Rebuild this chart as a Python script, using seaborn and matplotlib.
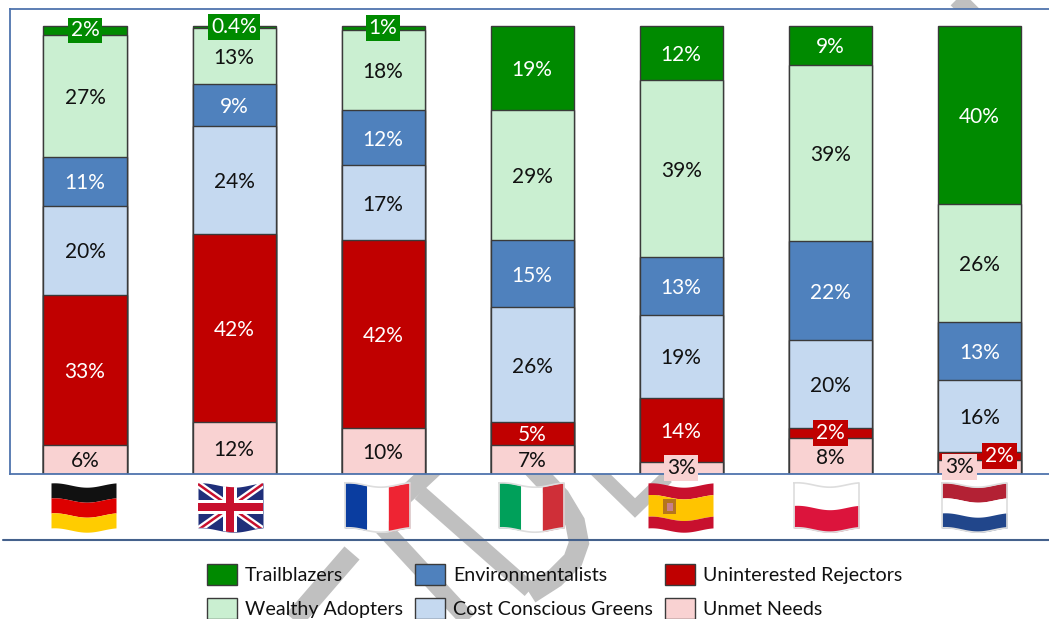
import numpy as np
import seaborn as sns
import matplotlib.pyplot as plt
from matplotlib.patches import Patch, Rectangle

# Chart data, top segment first
countries = ["Germany", "UK", "France", "Italy", "Spain", "Poland", "Netherlands"]
segments = ["Trailblazers", "Wealthy Adopters", "Environmentalists",
            "Cost Conscious Greens", "Uninterested Rejectors", "Unmet Needs"]

trailblazers = [2.0, 0.4, 0.9, 18.8, 12.1, 8.7, 39.8]
wealthy = [27.2, 12.6, 17.9, 29.0, 39.5, 39.2, 26.3]
environmentalists = [10.9, 9.4, 12.3, 15.0, 12.9, 22.3, 12.9]
cost_conscious = [19.9, 24.0, 16.7, 25.6, 18.5, 19.6, 16.1]
rejectors = [33.5, 42.0, 41.9, 5.1, 14.3, 2.2, 1.8]
unmet = [6.5, 11.6, 10.3, 6.5, 2.7, 8.0, 3.1]

trailblazers_txt = ["2%", "0.4%", "1%", "19%", "12%", "9%", "40%"]
wealthy_txt = ["27%", "13%", "18%", "29%", "39%", "39%", "26%"]
environmentalists_txt = ["11%", "9%", "12%", "15%", "13%", "22%", "13%"]
cost_conscious_txt = ["20%", "24%", "17%", "26%", "19%", "20%", "16%"]
rejectors_txt = ["33%", "42%", "42%", "5%", "14%", "2%", "2%"]
unmet_txt = ["6%", "12%", "10%", "7%", "3%", "8%", "3%"]

values = [trailblazers, wealthy, environmentalists, cost_conscious, rejectors, unmet]
value_text = [trailblazers_txt, wealthy_txt, environmentalists_txt,
              cost_conscious_txt, rejectors_txt, unmet_txt]

colors = ["#008A00", "#CAEFD1", "#4F81BD", "#C5D9F0", "#C00000", "#F9D2D2"]
text_colors = ["white", "#111111", "white", "#111111", "white", "#111111"]

W, H = 1049, 619
FONT = 15
LEGEND_FONT = 14.1
STEP = 149.05
EDGE = "#3a3a3a"
FRAME = "#4f74ae"
GRAY = "#c0c0c0"

sns.set_theme(style="white")
plt.rcParams["font.family"] = ["Lato", "DejaVu Sans"]

fig = plt.figure(figsize=(W / 100, H / 100), dpi=100)

# background layer in pixel coordinates, for watermark, flags and rule
bg = fig.add_axes([0, 0, 1, 1], zorder=0)
bg.set_xlim(0, W)
bg.set_ylim(H, 0)
bg.axis("off")

strokes = [
    ([(352, 553), (280, 636)], 20),
    ([(372, 516), (483, 636)], 17),
    ([(445, 458), (400, 500)], 18),
    ([(420, 493), (530, 590)], 16),
    ([(590, 464), (635, 508), (667, 477)], 14),
    ([(950, -8), (975, 17)], 18),
    ([(530, 465), (560, 497), (575, 522), (579, 543), (573, 560), (555, 578), (530, 594)], 20),
]
for pts, w in strokes:
    xs, ys = zip(*pts)
    bg.plot(xs, ys, color=GRAY, lw=w * 0.72, solid_capstyle="butt",
            solid_joinstyle="miter", zorder=1)

bg.plot([3, W], [539.5, 539.5], color="#44618c", lw=1.5, zorder=2)


# waving emoji style flags
def wave(t):
    return -2.2 * np.cos(2 * np.pi * (t - 0.05))


def flag_shape(x0, color, t0=0.0, t1=1.0, f0=0.0, f1=1.0):
    t = np.linspace(t0, t1, 40)
    top = 485 + 45 * f0 + wave(t)
    bottom = 485 + 45 * f1 + wave(t)
    return bg.fill_between(x0 + 65 * t, top, bottom, color=color, lw=0, zorder=3)


def h_flag(x0, stripes):
    for color, f0, f1 in stripes:
        flag_shape(x0, color, f0=f0, f1=f1)


def v_flag(x0, stripes):
    for color, t0, t1 in stripes:
        flag_shape(x0, color, t0=t0, t1=t1)


def outline(x0):
    t = np.linspace(0, 1, 40)
    xs = np.r_[x0 + 65 * t, x0 + 65 * t[::-1], x0]
    ys = np.r_[485 + wave(t), 530 + wave(t[::-1]), 485 + wave(0)]
    bg.plot(xs, ys, color="#dddddd", lw=1.2, zorder=3.5)


h_flag(51, [("#111111", 0, 1 / 3), ("#DD0000", 1 / 3, 2 / 3), ("#FFCC00", 2 / 3, 1)])

base = flag_shape(198, "#1F2F7A")
uk_clip = base.get_paths()[0]
for pts, w, c in [
    ([(198, 484), (263, 530)], 7, "white"), ([(198, 530), (263, 484)], 7, "white"),
    ([(198, 484), (263, 530)], 2.5, "#C8102E"), ([(198, 530), (263, 484)], 2.5, "#C8102E"),
    ([(230, 480), (230, 534)], 14, "white"), ([(196, 507), (265, 507)], 14, "white"),
    ([(230, 480), (230, 534)], 8, "#C8102E"), ([(196, 507), (265, 507)], 8, "#C8102E"),
]:
    xs, ys = zip(*pts)
    ln = bg.plot(xs, ys, color=c, lw=w * 0.72, solid_capstyle="butt", zorder=3.2)[0]
    ln.set_clip_path(uk_clip, bg.transData)

outline(345)
v_flag(345, [("#0A3DA0", 0, 1 / 3), ("white", 1 / 3, 2 / 3), ("#EE2433", 2 / 3, 1)])
outline(499)
v_flag(499, [("#00A05A", 0, 1 / 3), ("white", 1 / 3, 2 / 3), ("#CF2F38", 2 / 3, 1)])
h_flag(648, [("#C8102E", 0, 0.26), ("#FFC400", 0.26, 0.74), ("#C8102E", 0.74, 1)])
bg.add_patch(Rectangle((663, 499), 13, 15, color="#B5751D", lw=0, zorder=3.5))
bg.add_patch(Rectangle((667, 503), 6, 8, color="#C8808A", lw=0, zorder=3.6))
outline(794)
h_flag(794, [("white", 0, 0.5), ("#DC143C", 0.5, 1)])
outline(942)
h_flag(942, [("#B32134", 0, 1 / 3), ("white", 1 / 3, 2 / 3), ("#21468B", 2 / 3, 1)])

# main plot, frame runs off the right edge
ax = fig.add_axes([10 / W, (H - 474) / H, (1052 - 10) / W, 465 / H], zorder=1)
ax.set_facecolor("white")

stack = np.cumsum(np.array(values[::-1]), axis=0)[::-1]
for i, seg in enumerate(segments):
    sns.barplot(x=countries, y=stack[i], color=colors[i], saturation=1, width=83 / STEP,
                edgecolor=EDGE, linewidth=1.0, ax=ax)

ax.set_xlim((10 - 85) / STEP, (1052 - 85) / STEP)
ax.set_ylim(0, 465 / 4.48)
ax.set_xticks([])
ax.set_yticks([])
ax.set_xlabel("")
ax.set_ylabel("")
ax.spines["right"].set_visible(False)
for s in ["left", "top", "bottom"]:
    ax.spines[s].set_color(FRAME)
    ax.spines[s].set_linewidth(1.3)

# labels too tall for their segment get a filled box, some shifted sideways
boxed = {(0, 0), (0, 1), (0, 2), (4, 5), (4, 6), (5, 4), (5, 6)}
shift = {(4, 6): 20, (5, 6): -20}
for i in range(len(segments)):
    for j in range(len(countries)):
        mid = stack[i][j] - values[i][j] / 2
        box = None
        dy = -2 * 0.72
        if (i, j) in boxed:
            box = dict(boxstyle="square,pad=0.14", facecolor=colors[i], edgecolor="none")
            dy = 0
        ax.annotate(value_text[i][j], (j, mid), xytext=(shift.get((i, j), 0) * 0.72, dy),
                    textcoords="offset points", ha="center", va="center",
                    fontsize=FONT, color=text_colors[i], bbox=box, zorder=5,
                    annotation_clip=False)

handles = [Patch(facecolor=c, edgecolor=EDGE, linewidth=1.0) for c in colors]
fs_px = LEGEND_FONT * 100 / 72
fig.legend(handles, segments, ncols=3, loc="upper left", frameon=False,
           bbox_to_anchor=(207 / W, 1 - 564 / H), bbox_transform=fig.transFigure,
           fontsize=LEGEND_FONT, borderpad=0, borderaxespad=0,
           handlelength=30 / fs_px, handleheight=25 / fs_px,
           handletextpad=8 / fs_px, columnspacing=12 / fs_px,
           labelspacing=13 / fs_px, labelcolor="#111111")

fig.savefig("out.png", dpi=100)
